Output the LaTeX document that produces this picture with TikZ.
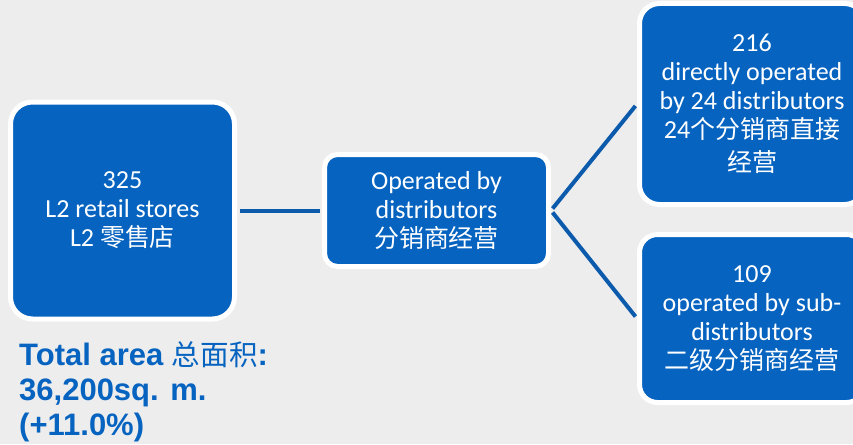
\documentclass[tikz,border=0pt]{standalone}
\usepackage{fontspec}
\setmainfont{Carlito}
\setsansfont{Liberation Sans}
\newfontfamily\cjk[Scale=0.96]{Noto Sans CJK SC}
\newfontfamily\cjkarea[Scale=0.92]{Noto Sans CJK SC}
\definecolor{boxblue}{RGB}{6,99,192}
\definecolor{lineblue}{RGB}{12,90,172}
\definecolor{bggray}{RGB}{237,237,237}

\begin{document}
\begin{tikzpicture}[x=1pt,y=-1pt,
    box/.style={draw=white,line width=5pt,fill=boxblue,text=white,align=center,
      inner sep=0pt,font=\fontsize{26}{29}\selectfont},
    link/.style={draw=lineblue,line width=4pt,shorten <=2.5pt,shorten >=2.5pt}]
  \fill[bggray] (0,0) rectangle (853,444);
  \clip (0,0) rectangle (853,444);
  \draw
    (122.5,210.5) node[box,minimum width=224pt,minimum height=217pt,rounded corners=22pt] (stores)
      {325\\L2 retail stores\\L2 {\cjk 零售店}}
    (436.5,210.5) node[box,minimum width=224pt,minimum height=112pt,rounded corners=13pt] (dist)
      {Operated by\\distributors\\{\cjk 分销商经营}}
    (752,104) node[box,minimum width=225pt,minimum height=201pt,rounded corners=20pt] (direct)
      {216\\directly operated\\by 24 distributors\\24{\cjk 个分销商直接}\\[4pt]{\cjk 经营}}
    (752,318.5) node[box,minimum width=225pt,minimum height=168pt,rounded corners=18pt] (sub)
      {109\\operated by sub-\\distributors\\{\cjk 二级分销商经营}};
  \begin{scope}
    \draw[link] (stores) -- (dist);
    \draw[link] (dist.east) -- (direct.west);
    \draw[link] (dist.east) -- (sub.west);
  \end{scope}
  \node[anchor=base west,inner sep=0pt,align=left,text=boxblue,
    font=\sffamily\bfseries\fontsize{31}{35}\selectfont] (area) at (19,435)
    {Total area {\cjkarea\mdseries 总面积}:\\36,200sq. m.\\(+11.0\%)};
\end{tikzpicture}
\end{document}
